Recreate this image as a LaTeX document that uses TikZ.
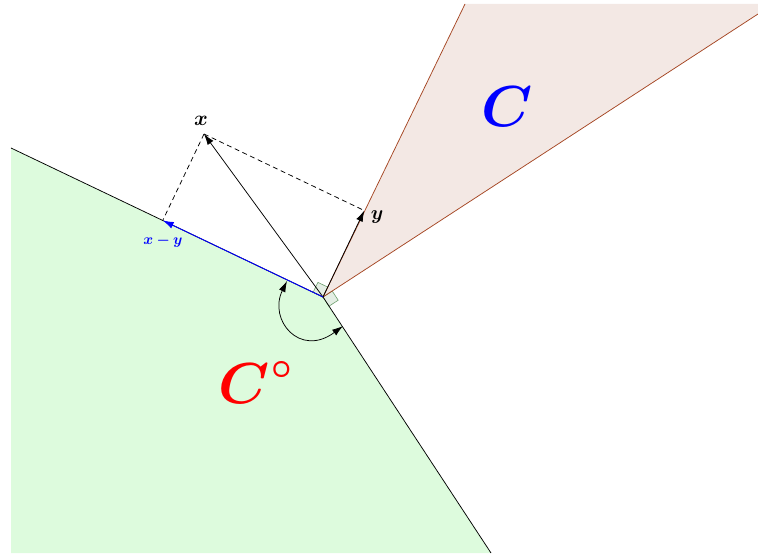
\RequirePackage{fix-cm}
\documentclass[tikz,border=0pt]{standalone}
\usepackage{bm}
\usetikzlibrary{arrows.meta,calc}
\definecolor{polarfill}{RGB}{221,251,221}
\definecolor{conefill}{RGB}{243,232,228}
\definecolor{coneedge}{RGB}{165,70,35}
\definecolor{sqfill}{RGB}{228,238,228}
\definecolor{sqedge}{RGB}{110,160,110}
\tikzset{
  edge/.style={line width=0.75bp},
  vec/.style={line width=0.75bp,-{Latex[length=11bp,width=7bp]}},
  dashline/.style={line width=0.75bp,dash pattern=on 5bp off 3.5bp},
  rightmark/.style={fill=sqfill,draw=sqedge,line width=0.6bp},
  lab/.style={inner sep=0pt}
}
\begin{document}
\begin{tikzpicture}[x=1bp,y=-1bp]
\useasboundingbox (0,0) rectangle (758,555);
% key points
\coordinate (O) at (323,297);
\coordinate (P1) at (11,148);
\coordinate (P1b) at (11,553);
\coordinate (P2) at (491,553);
\coordinate (Q1) at (465,4);
\coordinate (Q1b) at (758,4);
\coordinate (Q2) at (758,14);
\coordinate (X) at (204,134);
\coordinate (XY) at ($(O)!(X)!(P1)$);
\coordinate (Y) at ($(X)-(XY)+(O)$);
\coordinate (A) at (287,281);
\coordinate (B) at (343,326);
% fills
\fill[polarfill] (O) -- (P1) -- (P1b) -- (P2) -- cycle;
\fill[conefill] (O) -- (Q1) -- (Q1b) -- (Q2) -- cycle;
% right angle marks
\draw[rightmark] (O) -- ++(4.8,-9.9) -- ++(-9.9,-4.7) -- ++(-4.8,9.9) -- cycle;
\draw[rightmark] (O) -- ++(9.2,-6.0) -- ++(6.0,9.2) -- ++(-9.2,6.0) -- cycle;
% boundaries
\draw[edge] (O) -- (P1);
\draw[edge] (O) -- (P2);
\draw[edge,coneedge] (O) -- (Q1);
\draw[edge,coneedge] (O) -- (Q2);
% dashed projections
\draw[dashline] (X) -- (Y);
\draw[dashline] (X) -- (XY);
% vectors
\draw[vec] (O) -- (X);
\draw[vec] (O) -- (Y);
\draw[vec,blue,line width=0.9bp] (O) -- (XY);
% angle arc
\draw[line width=0.75bp,{Latex[length=11bp,width=7bp]}-{Latex[length=11bp,width=7bp]}]
  (A) .. controls (268,320) and (300,358) .. (B);
% labels
\node[lab] (lx) at (201,121) {\fontsize{21}{24}\selectfont$\bm{x}$};
\node[lab] (ly) at (377,217) {\fontsize{20}{24}\selectfont$\bm{y}$};
\node[lab,text=blue] (lxy) at (163,241) {\fontsize{15}{18}\selectfont$\bm{x-y}$};
\node[lab,text=blue,anchor=base] (lC) at (507,127) {\fontsize{58}{60}\selectfont$\bm{C}$};
\node[lab,text=red,anchor=base west] (lCo) at (218,403)
  {\fontsize{58}{60}\selectfont$\bm{C}$\hspace{2bp}\raisebox{25bp}{\fontsize{36}{36}\selectfont$\bm{\circ}$}};
\end{tikzpicture}
\end{document}
